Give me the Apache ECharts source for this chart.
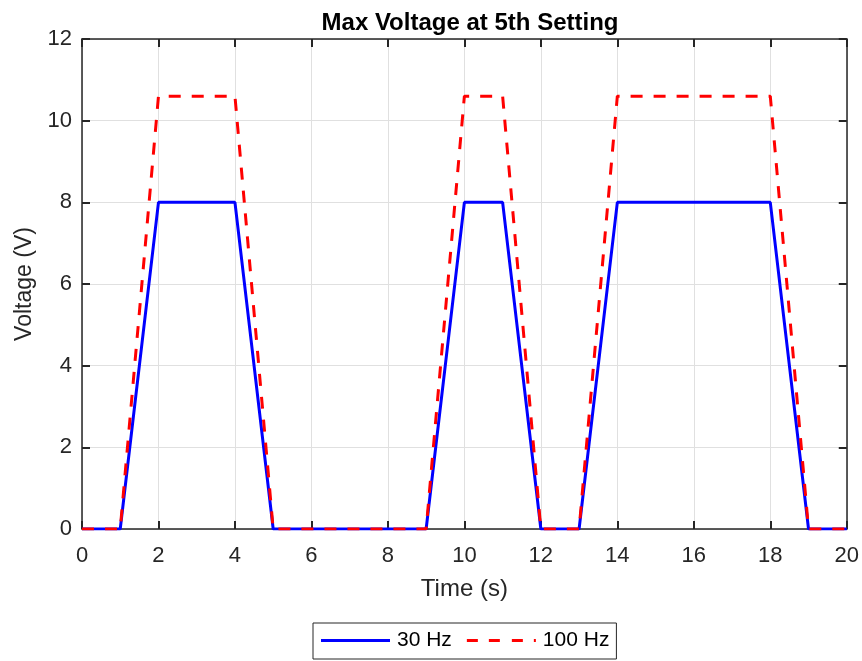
<!DOCTYPE html>
<html><head><meta charset="utf-8">
<script src="https://cdn.jsdelivr.net/npm/echarts@6/dist/echarts.min.js"></script>
<style>html,body{margin:0;padding:0;background:#fff}#c{width:862px;height:661px}</style>
</head><body><div id="c"></div>
<script>
const time = [0, 1, 2, 4, 5, 9, 10, 11, 12, 13, 14, 18, 19, 20];
const v30 = [0, 0, 8, 8, 0, 0, 8, 8, 0, 0, 8, 8, 0, 0];
const v100 = [0, 0, 10.6, 10.6, 0, 0, 10.6, 10.6, 0, 0, 10.6, 10.6, 0, 0];
const seriesNames = ['30 Hz', '100 Hz'];

const font = 'Arial, Helvetica, "Liberation Sans", sans-serif';
const txt = '#262626';
const chart = echarts.init(document.getElementById('c'), null, {renderer: 'canvas'});
const pair = (xs, ys) => xs.map((x, i) => [x, ys[i]]);
const axisBase = {
  type: 'value',
  axisLine: {show: true, onZero: false, lineStyle: {color: txt, width: 1.5}},
  axisTick: {show: true, inside: true, length: 8, lineStyle: {color: txt, width: 2}},
};
chart.setOption({
  animation: false,
  backgroundColor: '#fff',
  title: {text: 'Max Voltage at 5th Setting', left: 465, top: 6, textAlign: 'center',
    textStyle: {fontFamily: font, fontSize: 24, fontWeight: 'bold', color: '#000'}},
  grid: {left: 82, right: 15, top: 39, bottom: 132},
  legend: {
    left: 313, top: 623,
    data: [
      {name: seriesNames[0], icon: 'path://M0,0h69v3h-69z'},
      {name: seriesNames[1], icon: 'path://M0,0h11v3h-11zM22,0h11v3h-11zM45,0h11v3h-11zM67,0h2v3h-2z'}
    ],
    itemWidth: 69, itemHeight: 3, itemGap: 15,
    borderColor: '#262626', borderWidth: 1, padding: [7, 7, 8, 8],
    textStyle: {fontFamily: font, fontSize: 21, color: '#000', padding: [0, 0, 0, 2]}
  },
  xAxis: [
    Object.assign({}, axisBase, {min: 0, max: 20, interval: 2, position: 'bottom',
      name: 'Time (s)', nameLocation: 'middle', nameGap: 48,
      nameTextStyle: {fontFamily: font, fontSize: 24, color: txt},
      axisLabel: {fontFamily: font, fontSize: 22, color: txt, margin: 16},
      splitLine: {show: true, lineStyle: {color: '#e0e0e0', width: 1}}}),
    Object.assign({}, axisBase, {min: 0, max: 20, interval: 2, position: 'top',
      axisLabel: {show: false}, splitLine: {show: false}})
  ],
  yAxis: [
    Object.assign({}, axisBase, {min: 0, max: 12, interval: 2, position: 'left',
      name: 'Voltage (V)', nameLocation: 'middle', nameGap: 43,
      nameTextStyle: {fontFamily: font, fontSize: 23, color: txt},
      axisLabel: {fontFamily: font, fontSize: 22, color: txt, margin: 10},
      splitLine: {show: true, lineStyle: {color: '#e0e0e0', width: 1}}}),
    Object.assign({}, axisBase, {min: 0, max: 12, interval: 2, position: 'right',
      axisLabel: {show: false}, splitLine: {show: false}})
  ],
  series: [
    {name: seriesNames[0], type: 'line', data: pair(time, v30), symbol: 'none',
      lineStyle: {color: '#0000ff', width: 3}, itemStyle: {color: '#0000ff'}, z: 3},
    {name: seriesNames[1], type: 'line', data: pair(time, v100), symbol: 'none',
      lineStyle: {color: '#ff0000', width: 3, type: [12, 11]}, itemStyle: {color: '#ff0000'}, z: 4}
  ]
});
</script></body></html>
